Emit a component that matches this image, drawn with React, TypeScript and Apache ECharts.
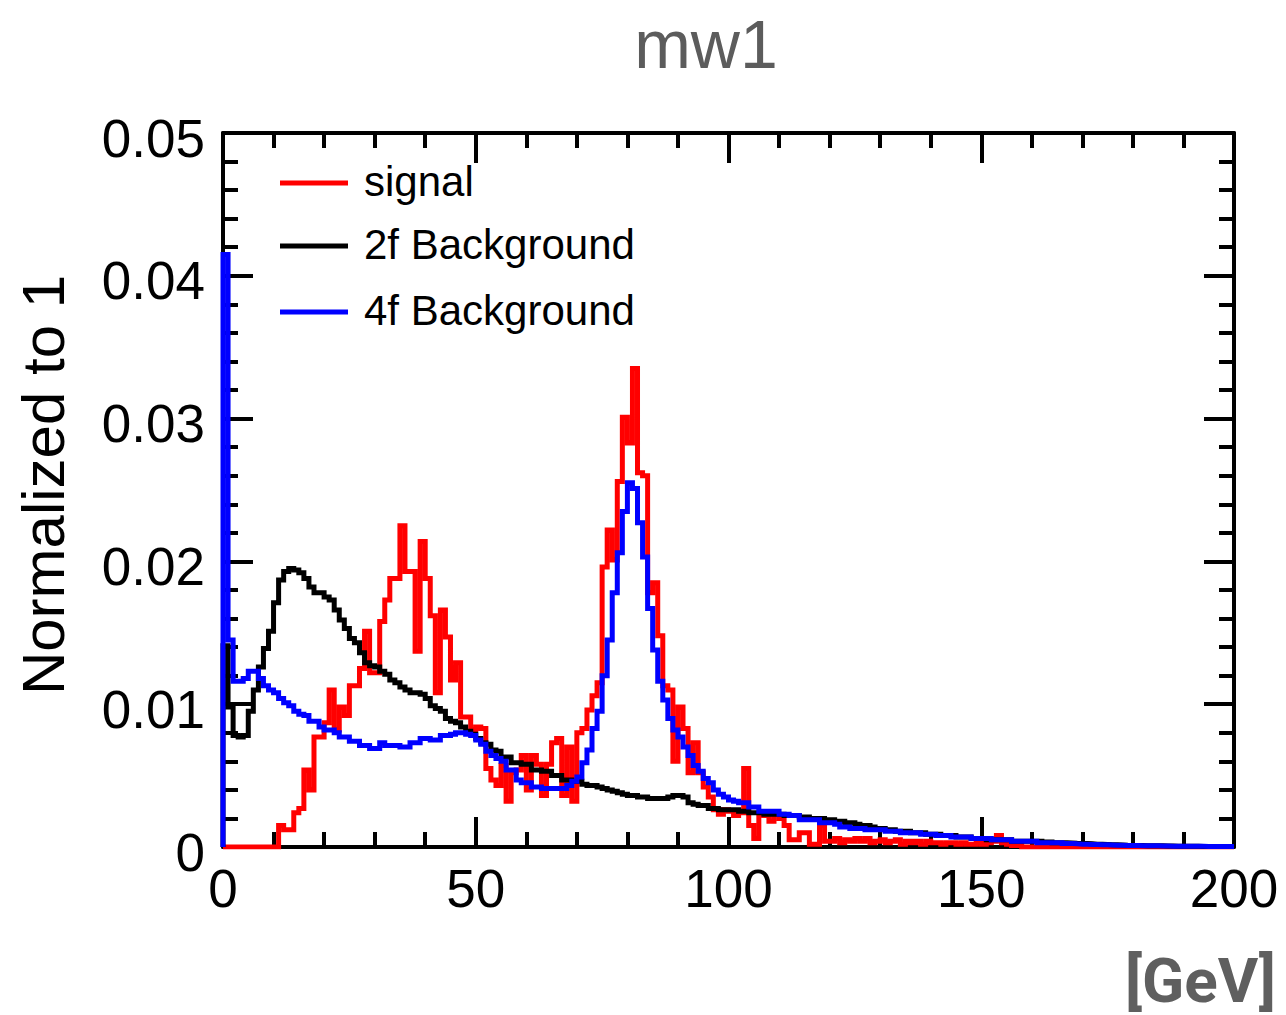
import React, { useEffect, useRef } from "react";
import * as echarts from "echarts";

// Histogram binning: 200 bins of 1 GeV from 0 to 200
const BIN_WIDTH = 1;
const X_TICKS = [0, 50, 100, 150, 200];
const Y_TICKS = [0, 0.01, 0.02, 0.03, 0.04, 0.05];

const seriesNames = ["signal", "2f Background", "4f Background"];

const signal = [
  0, 0, 0, 0, 0, 0, 0, 0, 0, 0,
  0, 0.0015, 0.0012, 0.0012, 0.0024, 0.0027, 0.0054, 0.0040, 0.0077, 0.0077,
  0.0087, 0.0110, 0.0082, 0.0098, 0.0092, 0.0113, 0.0113, 0.0125, 0.0151, 0.0122,
  0.0122, 0.0158, 0.0173, 0.0188, 0.0188, 0.0225, 0.0193, 0.0193, 0.0137, 0.0214,
  0.0188, 0.0162, 0.0108, 0.0166, 0.0147, 0.0117, 0.0129, 0.0091, 0.0091, 0.0082,
  0.0084, 0.0083, 0.0055, 0.0047, 0.0043, 0.0057, 0.0032, 0.0052, 0.0054, 0.0064,
  0.0040, 0.0064, 0.0058, 0.0036, 0.0058, 0.0073, 0.0076, 0.0036, 0.0070, 0.0032,
  0.0080, 0.0083, 0.0096, 0.0106, 0.0115, 0.0196, 0.0222, 0.0201, 0.0256, 0.0301,
  0.0283, 0.0335, 0.0262, 0.0260, 0.0178, 0.0185, 0.0148, 0.0113, 0.0110, 0.0060,
  0.0098, 0.0083, 0.0052, 0.0073, 0.0052, 0.0042, 0.0035, 0.0026, 0.0023, 0.0026,
  0.0025, 0.0022, 0.0024, 0.0055, 0.0015, 0.0006, 0.0023, 0.0022, 0.0018, 0.0023,
  0.0020, 0.0015, 0.0005, 0.0005, 0.0010, 0.0010, 0.0002, 0.0002, 0.0015, 0.0004,
  0.0004, 0.0006, 0.0003, 0.0005, 0.0004, 0.0006, 0.0004, 0.0006, 0.0003, 0.0004,
  0.0005, 0.0003, 0.0004, 0.0005, 0.0002, 0.0004, 0.0003, 0.0004, 0.0002, 0.0004,
  0.0003, 0.0003, 0.0002, 0.0003, 0.0003, 0.0002, 0.0003, 0.0002, 0.0002, 0.0003,
  0.0002, 0.0003, 0.0004, 0.0008, 0.0003, 0.0002, 0.0001, 0.0001, 0, 0,
  0, 0, 0, 0, 0, 0, 0, 0, 0, 0,
  0, 0, 0, 0, 0, 0, 0, 0, 0, 0,
  0, 0, 0, 0, 0, 0, 0, 0, 0, 0,
  0, 0, 0, 0, 0, 0, 0, 0, 0, 0,
];

const bkg2f = [
  0.0141, 0.0098, 0.0078, 0.0077, 0.0078, 0.0095, 0.0110, 0.0126, 0.0139, 0.0151,
  0.0171, 0.0187, 0.0193, 0.0195, 0.0194, 0.0192, 0.0188, 0.0182, 0.0178, 0.0178,
  0.0175, 0.0173, 0.0166, 0.0159, 0.0153, 0.0146, 0.0143, 0.0136, 0.0129, 0.0127,
  0.0126, 0.0123, 0.0121, 0.0117, 0.0115, 0.0112, 0.0110, 0.0108, 0.0108, 0.0107,
  0.0104, 0.0099, 0.0097, 0.0095, 0.0090, 0.0088, 0.0087, 0.0084, 0.0081, 0.0079,
  0.0076, 0.0073, 0.0072, 0.0068, 0.0067, 0.0063, 0.0063, 0.0059, 0.0059, 0.0058,
  0.0058, 0.0054, 0.0054, 0.0053, 0.0053, 0.0050, 0.0050, 0.0047, 0.0047, 0.0046,
  0.0046, 0.0044, 0.0043, 0.0043, 0.0042, 0.0041, 0.0040, 0.0039, 0.0038, 0.0037,
  0.0036, 0.0036, 0.0035, 0.0035, 0.0034, 0.0034, 0.0034, 0.0034, 0.0035, 0.0036,
  0.0036, 0.0035, 0.0031, 0.0030, 0.0029, 0.0029, 0.0027, 0.0027, 0.0026, 0.0026,
  0.0026, 0.0026, 0.0025, 0.0025, 0.0024, 0.0024, 0.0024, 0.0023, 0.0023, 0.0023,
  0.0023, 0.0022, 0.0022, 0.0022, 0.0021, 0.0021, 0.0020, 0.0020, 0.0020, 0.0019,
  0.0019, 0.0018, 0.0018, 0.0017, 0.0017, 0.0016, 0.0015, 0.0015, 0.0014, 0.0013,
  0.0013, 0.0012, 0.0012, 0.0011, 0.0011, 0.0011, 0.0010, 0.0010, 0.0010, 0.0009,
  0.0009, 0.0009, 0.0008, 0.0008, 0.0008, 0.0007, 0.0007, 0.0007, 0.0006, 0.0006,
  0.0006, 0.0005, 0.0005, 0.0005, 0.0005, 0.0005, 0.0004, 0.0004, 0.0004, 0.0004,
  0.0004, 0.0004, 0.00035, 0.00035, 0.0003, 0.0003, 0.0003, 0.00028, 0.00026, 0.00025,
  0.00024, 0.00022, 0.0002, 0.00019, 0.00018, 0.00016, 0.00015, 0.00014, 0.00012, 0.00011,
  0.0001, 0.0001, 0.00009, 0.00009, 0.00008, 0.00008, 0.00007, 0.00007, 0.00006, 0.00006,
  0.00005, 0.00005, 0.00005, 0.00004, 0.00004, 0.00004, 0.00003, 0.00003, 0.00003, 0.00003,
];

const bkg4f = [
  0.0415, 0.0145, 0.0116, 0.0116, 0.0118, 0.0123, 0.0123, 0.0118, 0.0113, 0.0110,
  0.0108, 0.0104, 0.0101, 0.0099, 0.0095, 0.0093, 0.0092, 0.0088, 0.0088, 0.0084,
  0.0082, 0.0082, 0.0080, 0.0077, 0.0077, 0.0074, 0.0074, 0.0071, 0.0071, 0.0069,
  0.0069, 0.0073, 0.0071, 0.0071, 0.0071, 0.0070, 0.0070, 0.0073, 0.0073, 0.0076,
  0.0076, 0.0075, 0.0075, 0.0078, 0.0078, 0.0079, 0.0080, 0.0080, 0.0079, 0.0078,
  0.0075, 0.0072, 0.0067, 0.0064, 0.0062, 0.0060, 0.0054, 0.0054, 0.0047, 0.0045,
  0.0045, 0.0042, 0.0042, 0.0041, 0.0041, 0.0041, 0.0041, 0.0041, 0.0043, 0.0046,
  0.0049, 0.0059, 0.0068, 0.0083, 0.0095, 0.0120, 0.0145, 0.0178, 0.0206, 0.0235,
  0.0255, 0.0251, 0.0227, 0.0203, 0.0167, 0.0138, 0.0116, 0.0103, 0.0090, 0.0082,
  0.0077, 0.0070, 0.0064, 0.0057, 0.0053, 0.0048, 0.0045, 0.0040, 0.0037, 0.0035,
  0.0033, 0.0032, 0.0031, 0.0031, 0.0028, 0.0028, 0.0025, 0.0025, 0.0025, 0.0025,
  0.0023, 0.0023, 0.0022, 0.0022, 0.0019, 0.0019, 0.0019, 0.0019, 0.0017, 0.0017,
  0.0017, 0.0016, 0.0014, 0.0014, 0.0013, 0.0013, 0.0013, 0.0012, 0.0012, 0.0012,
  0.0012, 0.0011, 0.0011, 0.0011, 0.0010, 0.0010, 0.0010, 0.0010, 0.0009, 0.0009,
  0.0009, 0.0008, 0.0008, 0.0008, 0.0007, 0.0007, 0.0007, 0.0007, 0.0006, 0.0006,
  0.0006, 0.0006, 0.0005, 0.0005, 0.0005, 0.0005, 0.0004, 0.0004, 0.0004, 0.0004,
  0.0004, 0.0003, 0.0003, 0.0003, 0.0003, 0.0003, 0.00025, 0.00025, 0.00022, 0.0002,
  0.0002, 0.00018, 0.00017, 0.00016, 0.00015, 0.00014, 0.00013, 0.00012, 0.00011, 0.0001,
  0.0001, 0.00009, 0.00009, 0.00008, 0.00008, 0.00007, 0.00007, 0.00006, 0.00006, 0.00006,
  0.00005, 0.00005, 0.00005, 0.00005, 0.00004, 0.00004, 0.00004, 0.00004, 0.00004, 0.00004,
];

const seriesColors = ["#ff0000", "#000000", "#0000ff"];

function toSteps(vals: number[]): number[][] {
  const pts: number[][] = [[0, 0]];
  vals.forEach((v, i) => pts.push([i * BIN_WIDTH, v]));
  pts.push([vals.length * BIN_WIDTH, vals[vals.length - 1]]);
  return pts;
}

const FONT = "Liberation Sans, Arial, Helvetica, sans-serif";

export default function App() {
  const ref = useRef<HTMLDivElement>(null);

  useEffect(() => {
    document.body.style.margin = "0";
    if (!ref.current) return;
    const chart = echarts.init(ref.current, undefined, { renderer: "svg" });

    const axisCommon = {
      axisLine: { show: true, onZero: false, lineStyle: { color: "#000", width: 4 } },
      axisTick: { show: true, inside: true, length: 30, lineStyle: { color: "#000", width: 4 } },
      minorTick: { show: true, splitNumber: 5, length: 15, lineStyle: { color: "#000", width: 4 } },
      splitLine: { show: false },
      minorSplitLine: { show: false },
    };

    const legendY = [183, 246, 312];
    const legendGraphics: any[] = [];
    seriesNames.forEach((name, i) => {
      legendGraphics.push({
        type: "line",
        shape: { x1: 280, y1: legendY[i], x2: 348, y2: legendY[i] },
        style: { stroke: seriesColors[i], lineWidth: 5 },
      });
      legendGraphics.push({
        type: "text",
        x: 364,
        y: legendY[i] - 2,
        style: {
          text: name,
          fontSize: 42,
          fontFamily: FONT,
          fill: "#000",
          textAlign: "left",
          textVerticalAlign: "middle",
        },
      });
    });

    const option: any = {
      animation: false,
      backgroundColor: "#ffffff",
      grid: { left: 223, right: 52, top: 133, bottom: 168, containLabel: false },
      xAxis: [
        {
          type: "value",
          position: "bottom",
          min: X_TICKS[0],
          max: X_TICKS[X_TICKS.length - 1],
          interval: X_TICKS[1] - X_TICKS[0],
          ...axisCommon,
          axisLabel: {
            show: true,
            fontSize: 53,
            fontFamily: FONT,
            color: "#000",
            margin: 15,
            formatter: (v: number) => String(Math.round(v)),
          },
        },
        {
          type: "value",
          position: "top",
          min: X_TICKS[0],
          max: X_TICKS[X_TICKS.length - 1],
          interval: X_TICKS[1] - X_TICKS[0],
          ...axisCommon,
          axisLabel: { show: false },
        },
      ],
      yAxis: [
        {
          type: "value",
          position: "left",
          min: Y_TICKS[0],
          max: Y_TICKS[Y_TICKS.length - 1],
          interval: Y_TICKS[1] - Y_TICKS[0],
          ...axisCommon,
          axisLabel: {
            show: true,
            margin: 18,
            formatter: (v: number) => "{t|" + (v === 0 ? "0" : v.toFixed(2)) + "}",
            rich: {
              t: {
                fontSize: 53,
                fontFamily: FONT,
                color: "#000",
                padding: [10, 0, 0, 0],
              },
            },
          },
        },
        {
          type: "value",
          position: "right",
          min: Y_TICKS[0],
          max: Y_TICKS[Y_TICKS.length - 1],
          interval: Y_TICKS[1] - Y_TICKS[0],
          ...axisCommon,
          axisLabel: { show: false },
        },
      ],
      series: [
        { name: seriesNames[0], data: toSteps(signal) },
        { name: seriesNames[1], data: toSteps(bkg2f) },
        { name: seriesNames[2], data: toSteps(bkg4f) },
      ].map((s, i) => ({
        ...s,
        type: "line",
        step: "end",
        xAxisIndex: 0,
        yAxisIndex: 0,
        symbol: "none",
        clip: true,
        z: 2 + i,
        lineStyle: { color: seriesColors[i], width: 5, join: "miter" },
        itemStyle: { color: seriesColors[i] },
      })),
      graphic: [
        {
          type: "text",
          x: 706,
          y: 44,
          style: {
            text: "mw1",
            fontSize: 68,
            fontFamily: FONT,
            fill: "#5c5c5c",
            textAlign: "center",
            textVerticalAlign: "middle",
          },
        },
        {
          type: "text",
          x: 43,
          y: 485,
          rotation: Math.PI / 2,
          style: {
            text: "Normalized to 1",
            fontSize: 60,
            fontFamily: FONT,
            fill: "#000",
            textAlign: "center",
            textVerticalAlign: "middle",
          },
        },
        {
          type: "text",
          x: 1276,
          y: 980,
          style: {
            text: "[GeV]",
            fontSize: 62,
            fontWeight: "bold",
            fontFamily: "Roboto, DejaVu Sans, sans-serif",
            fill: "#5f5f5f",
            textAlign: "right",
            textVerticalAlign: "middle",
          },
        },
        ...legendGraphics,
      ],
    };

    chart.setOption(option);
    return () => chart.dispose();
  }, []);

  return <div ref={ref} style={{ width: 1286, height: 1015 }} />;
}
